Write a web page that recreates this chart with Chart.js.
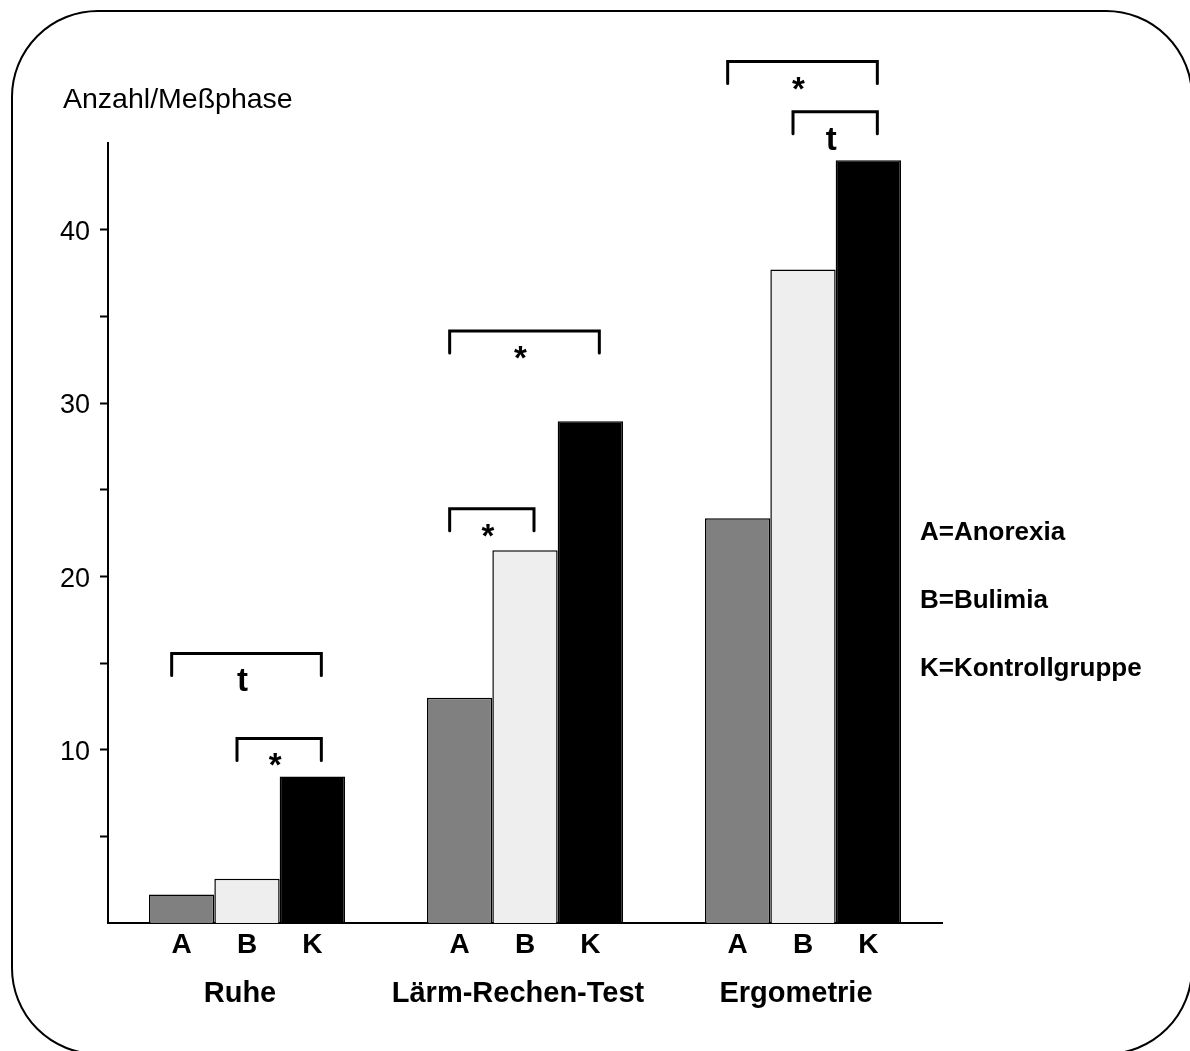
<!DOCTYPE html>
<html lang="de">
<head>
<meta charset="utf-8">
<title>Anzahl/Meßphase</title>
<script src="https://cdn.jsdelivr.net/npm/chart.js@4.4.0/dist/chart.umd.min.js"></script>
<style>
  html, body { margin: 0; padding: 0; background: #fff; }
  #wrap { position: relative; width: 1190px; height: 1051px; }
</style>
</head>
<body>
<div id="wrap"><canvas id="chart"></canvas></div>
<script>
// Messphasen und Gruppen
const phases = ['Ruhe', 'Lärm-Rechen-Test', 'Ergometrie'];
const groupCodes = ['A', 'B', 'K'];
const groupNames = ['A=Anorexia', 'B=Bulimia', 'K=Kontrollgruppe'];
const groupColors = ['#808080', '#eeeeee', '#000000'];

// Anzahl je Meßphase
const anorexia = [1.65, 13.0, 23.35];
const bulimia = [2.55, 21.5, 37.7];
const kontrolle = [8.45, 28.95, 44.0];

const yTicks = [5, 10, 15, 20, 25, 30, 35, 40];

// Signifikanzklammern: Phase, von Gruppe, bis Gruppe, Höhe (Skalenwert), Zeichen
const bracketPhase = [0, 0, 1, 1, 2, 2];
const bracketFrom = [0, 1, 0, 0, 0, 1];
const bracketTo = [2, 2, 2, 1, 2, 2];
const bracketLevel = [15.55, 10.65, 34.15, 23.9, 49.7, 46.8];
const bracketMark = ['t', '*', '*', '*', '*', 't'];

const FONT = "'Liberation Sans', Arial, Helvetica, sans-serif";
Chart.defaults.font.family = FONT;
Chart.defaults.color = '#000';

function roundedFrame(ctx, x, y, w, h, r) {
    ctx.beginPath();
    ctx.moveTo(x + r, y);
    ctx.arcTo(x + w, y, x + w, y + h, r);
    ctx.arcTo(x + w, y + h, x, y + h, r);
    ctx.arcTo(x, y + h, x, y, r);
    ctx.arcTo(x, y, x + w, y, r);
    ctx.closePath();
}

const decorations = {
    id: 'decorations',
    beforeDraw(chart) {
        const ctx = chart.ctx;
        ctx.save();
        ctx.fillStyle = '#fff';
        ctx.fillRect(0, 0, chart.width, chart.height);
        ctx.strokeStyle = '#000';
        ctx.lineWidth = 2;
        roundedFrame(ctx, 12, 11, 1180, 1043, 86);
        ctx.stroke();
        ctx.restore();
    },
    afterDraw(chart) {
        const ctx = chart.ctx;
        const yScale = chart.scales.y;
        const area = chart.chartArea;
        ctx.save();
        ctx.fillStyle = '#000';
        ctx.strokeStyle = '#000';

        // Achsentitel
        ctx.font = `28.5px ${FONT}`;
        ctx.textAlign = 'left';
        ctx.textBaseline = 'alphabetic';
        ctx.fillText('Anzahl/Meßphase', 63, 108);

        // Gruppenbuchstaben unter den Balken
        ctx.font = `bold 28px ${FONT}`;
        ctx.textAlign = 'center';
        ctx.textBaseline = 'alphabetic';
        groupCodes.forEach((code, d) => {
            chart.getDatasetMeta(d).data.forEach((bar) => {
                ctx.fillText(code, bar.x, area.bottom + 30);
            });
        });

        // Signifikanzklammern
        ctx.lineWidth = 3;
        ctx.lineCap = 'round';
        ctx.font = `bold 33px ${FONT}`;
        bracketPhase.forEach((p, i) => {
            const left = chart.getDatasetMeta(bracketFrom[i]).data[p].x - 10;
            const right = chart.getDatasetMeta(bracketTo[i]).data[p].x + 9;
            const top = yScale.getPixelForValue(bracketLevel[i]);
            ctx.beginPath();
            ctx.moveTo(left, top + 22);
            ctx.lineTo(left, top);
            ctx.lineTo(right, top);
            ctx.lineTo(right, top + 22);
            ctx.stroke();
            ctx.fillText(bracketMark[i], (left + right) / 2 - 4, top + 38);
        });

        // Legende rechts
        ctx.font = `bold 26px ${FONT}`;
        ctx.textAlign = 'left';
        groupNames.forEach((name, i) => {
            ctx.fillText(name, 920, 540 + i * 68);
        });
        ctx.restore();
    }
};

const datasets = [anorexia, bulimia, kontrolle].map((values, i) => ({
    label: groupNames[i],
    data: values,
    backgroundColor: groupColors[i],
    borderColor: '#000',
    borderWidth: 1.5,
    barPercentage: 1,
    categoryPercentage: 0.705,
}));

new Chart(document.getElementById('chart'), {
    type: 'bar',
    data: { labels: phases, datasets },
    options: {
        responsive: true,
        maintainAspectRatio: false,
        animation: false,
        layout: { padding: { top: 143, right: 248, left: 0, bottom: 0 } },
        plugins: {
            legend: { display: false },
            tooltip: { enabled: false },
        },
        scales: {
            x: {
                grid: { display: false },
                border: { display: true, color: '#000', width: 2 },
                ticks: {
                    padding: 46,
                    labelOffset: -7,
                    color: '#000',
                    font: { size: 29, weight: 'bold' },
                },
                afterFit(scale) {
                    scale.height = 128;
                },
            },
            y: {
                min: 0,
                max: 45,
                grid: {
                    display: true,
                    drawOnChartArea: false,
                    drawTicks: true,
                    tickLength: 8,
                    tickWidth: 2,
                    tickColor: '#000',
                },
                border: { display: true, color: '#000', width: 2 },
                ticks: {
                    padding: 10,
                    labelOffset: 3,
                    color: '#000',
                    font: { size: 27 },
                    callback: (value) => (value % 10 === 0 ? value : ''),
                },
                afterBuildTicks(scale) {
                    scale.ticks = yTicks.map((value) => ({ value }));
                },
                afterFit(scale) {
                    scale.width = 108;
                },
            },
        },
    },
    plugins: [decorations],
});
</script>
</body>
</html>
